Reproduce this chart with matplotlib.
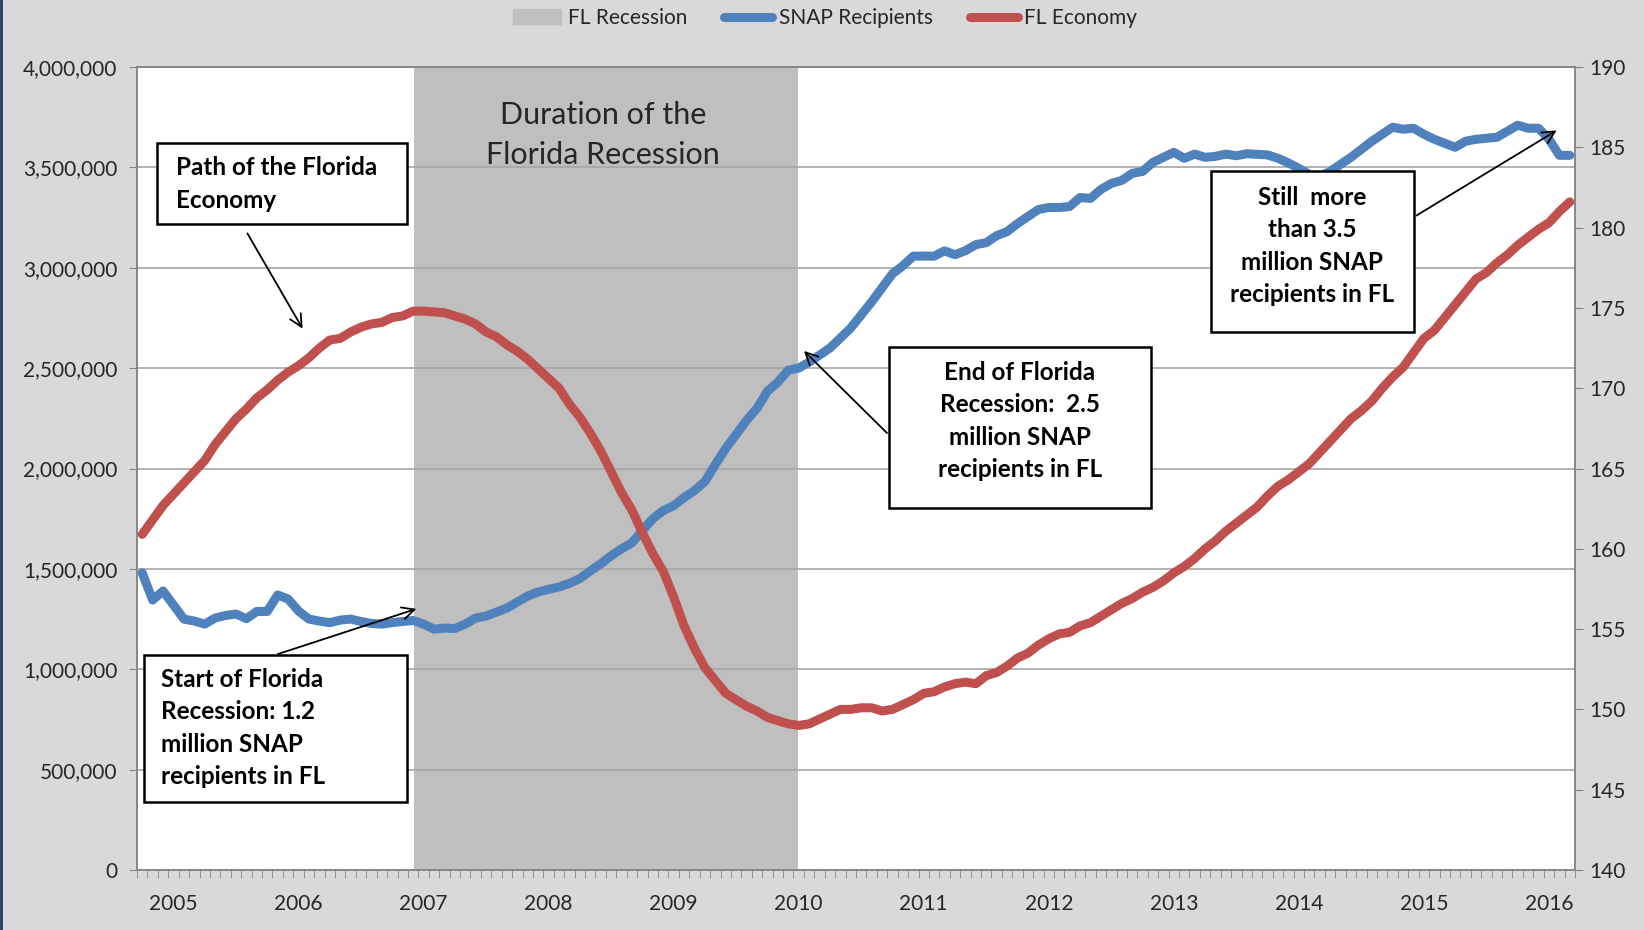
import numpy as np
import matplotlib
matplotlib.use("Agg")
import matplotlib.pyplot as plt
from matplotlib.patches import Patch, Rectangle
from matplotlib.lines import Line2D
from matplotlib.ticker import FuncFormatter

plt.rcParams['font.family'] = ['Lato', 'DejaVu Sans']

# monthly, Oct 2004 .. Mar 2016
snap = [1480000, 1345000, 1390000, 1320000, 1250000, 1240000, 1225000, 1255000, 1268000, 1275000,
        1252000, 1288000, 1288000, 1370000, 1350000, 1290000, 1250000, 1240000, 1232000, 1245000,
        1250000, 1238000, 1228000, 1225000, 1232000, 1238000, 1243000, 1225000, 1200000, 1205000,
        1203000, 1225000, 1255000, 1265000, 1285000, 1305000, 1335000, 1365000, 1385000, 1398000,
        1410000, 1428000, 1452000, 1490000, 1525000, 1565000, 1600000, 1630000, 1690000, 1750000,
        1790000, 1815000, 1855000, 1890000, 1935000, 2020000, 2100000, 2170000, 2240000, 2300000,
        2385000, 2430000, 2490000, 2500000, 2530000, 2565000, 2600000, 2650000, 2700000, 2765000,
        2830000, 2900000, 2970000, 3010000, 3058000, 3058000, 3058000, 3084000, 3065000, 3085000,
        3115000, 3125000, 3160000, 3180000, 3220000, 3255000, 3290000, 3300000, 3300000, 3305000,
        3350000, 3345000, 3390000, 3420000, 3435000, 3470000, 3480000, 3525000, 3550000, 3575000,
        3545000, 3566000, 3550000, 3555000, 3566000, 3558000, 3568000, 3565000, 3562000, 3545000,
        3522000, 3495000, 3465000, 3455000, 3480000, 3515000, 3550000, 3590000, 3630000, 3665000,
        3700000, 3690000, 3695000, 3665000, 3640000, 3620000, 3600000, 3630000, 3640000, 3645000,
        3650000, 3680000, 3710000, 3695000, 3695000, 3640000, 3560000, 3560000]

economy = [160.9, 161.8, 162.7, 163.4, 164.1, 164.8, 165.5, 166.5, 167.3, 168.1,
           168.7, 169.4, 169.9, 170.5, 171.0, 171.4, 171.9, 172.5, 173.0, 173.1,
           173.5, 173.8, 174.0, 174.1, 174.4, 174.5, 174.8, 174.8, 174.75, 174.7,
           174.5, 174.3, 174.0, 173.5, 173.2, 172.7, 172.3, 171.8, 171.2, 170.6,
           170.0, 169.0, 168.2, 167.2, 166.1, 164.8, 163.5, 162.4, 161.0, 159.7,
           158.6, 157.0, 155.2, 153.8, 152.6, 151.8, 151.0, 150.6, 150.2, 149.9,
           149.5, 149.3, 149.1, 149.0, 149.1, 149.4, 149.7, 150.0, 150.0, 150.1,
           150.1, 149.9, 150.0, 150.3, 150.6, 151.0, 151.1, 151.4, 151.6, 151.7,
           151.6, 152.1, 152.3, 152.7, 153.2, 153.5, 154.0, 154.4, 154.7, 154.8,
           155.2, 155.4, 155.8, 156.2, 156.6, 156.9, 157.3, 157.6, 158.0, 158.5,
           158.9, 159.4, 160.0, 160.5, 161.1, 161.6, 162.1, 162.6, 163.3, 163.9,
           164.3, 164.8, 165.3, 166.0, 166.7, 167.4, 168.1, 168.6, 169.2, 170.0,
           170.7, 171.3, 172.2, 173.1, 173.6, 174.4, 175.2, 176.0, 176.8, 177.2,
           177.8, 178.3, 178.9, 179.4, 179.9, 180.3, 181.0, 181.6]

years = ['2005', '2006', '2007', '2008', '2009', '2010', '2011', '2012', '2013', '2014', '2015', '2016']
year_idx = [3, 15, 27, 39, 51, 63, 75, 87, 99, 111, 123, 135]   # January of each year
recession = (26.1, 62.9)

blue = '#4F81BD'
red = '#C0504D'
W, H = 1644, 930

def px(x, y):
    return (x / W, 1 - y / H)

fig = plt.figure(figsize=(16.44, 9.3), dpi=100, facecolor='#D9D9D9')
ax = fig.add_axes([137 / W, 1 - 870 / H, (1575 - 137) / W, (870 - 67) / H])
ax.set_facecolor('white')

x = np.arange(len(snap))
ax.axvspan(*recession, color='#BFBFBF', lw=0, zorder=0)
ax.plot(x, snap, color=blue, lw=6.5, solid_joinstyle='round', solid_capstyle='round', zorder=3)
ax.set_xlim(-0.5, len(snap) - 0.5)
ax.set_ylim(0, 4000000)
ax.set_yticks(np.arange(0, 4000001, 500000))
ax.yaxis.set_major_formatter(FuncFormatter(lambda v, p: f'{int(v):,}'))
ax.grid(axis='y', color='#A6A6A6', lw=1.2, zorder=1)
ax.set_axisbelow(True)

ax2 = ax.twinx()
ax2.plot(x, economy, color=red, lw=6.5, solid_joinstyle='round', solid_capstyle='round', zorder=3)
ax2.set_ylim(140, 190)
ax2.set_yticks(np.arange(140, 191, 5))

ax.set_xticks(year_idx)
ax.set_xticklabels(years)
ax.set_xticks(np.arange(-0.5, len(snap), 1), minor=True)
ax.tick_params(axis='x', which='major', length=0, pad=17, labelsize=15, colors='#262626')
ax.tick_params(axis='x', which='minor', length=6, color='#868686', direction='out')
ax.tick_params(axis='y', length=6, color='#868686', pad=8, labelsize=15, labelcolor='#262626')
ax2.tick_params(axis='y', length=6, color='#868686', pad=4, labelsize=15, labelcolor='#262626')
for a in (ax, ax2):
    for s in a.spines.values():
        s.set_color('#868686')
        s.set_linewidth(1.2)

# legend
handles = [Patch(color='#BFBFBF', label='FL Recession'),
           Line2D([], [], color=blue, lw=6.5, solid_capstyle='round', label='SNAP Recipients'),
           Line2D([], [], color=red, lw=6.5, solid_capstyle='round', label='FL Economy')]
fig.legend(handles=handles, loc='center', bbox_to_anchor=(0.502, 1 - 18 / H), ncol=3,
           frameon=False, fontsize=15, handlelength=2.3, handletextpad=0.3, columnspacing=1.8,
           labelcolor='#262626')

# annotation boxes
boxes = [(157, 143, 407, 224), (144, 655, 407, 802), (889, 347, 1151, 508), (1211, 171, 1414, 332)]
for x0, y0, x1, y1 in boxes:
    fig.patches.append(Rectangle(px(x0, y1), (x1 - x0) / W, (y1 - y0) / H, transform=fig.transFigure,
                                 facecolor='white', edgecolor='black', lw=1.8, zorder=5))

tk = dict(fontsize=17.5, fontweight='bold', linespacing=1.5, color='black', zorder=6)
fig.text(*px(176, 184), 'Path of the Florida\nEconomy', ha='left', va='center', **tk)
fig.text(*px(161, 728), 'Start of Florida\nRecession: 1.2\nmillion SNAP\nrecipients in FL',
         ha='left', va='center', **tk)
fig.text(*px(1020, 421), 'End of Florida\nRecession:  2.5\nmillion SNAP\nrecipients in FL',
         ha='center', va='center', **tk)
fig.text(*px(1312, 246), 'Still  more\nthan 3.5\nmillion SNAP\nrecipients in FL',
         ha='center', va='center', **tk)
fig.text(*px(603, 135), 'Duration of the\nFlorida Recession', ha='center', va='center',
         fontsize=22, linespacing=1.5, color='#262626', zorder=6)

arrows = [((246, 231), (304, 331)), ((275, 655), (419, 608)),
          ((889, 435), (802, 349)), ((1414, 217), (1559, 129))]
for start, end in arrows:
    ax.annotate('', xy=px(*end), xycoords='figure fraction', xytext=px(*start),
                textcoords='figure fraction',
                arrowprops=dict(arrowstyle='->', color='black', lw=1.3, mutation_scale=22),
                zorder=7, annotation_clip=False)

# dark frame edge on the left
fig.add_artist(Line2D([1 / W, 1 / W], [0, 1], transform=fig.transFigure, color='#1F3864', lw=2))

fig.savefig('out.png', dpi=100, facecolor=fig.get_facecolor())
